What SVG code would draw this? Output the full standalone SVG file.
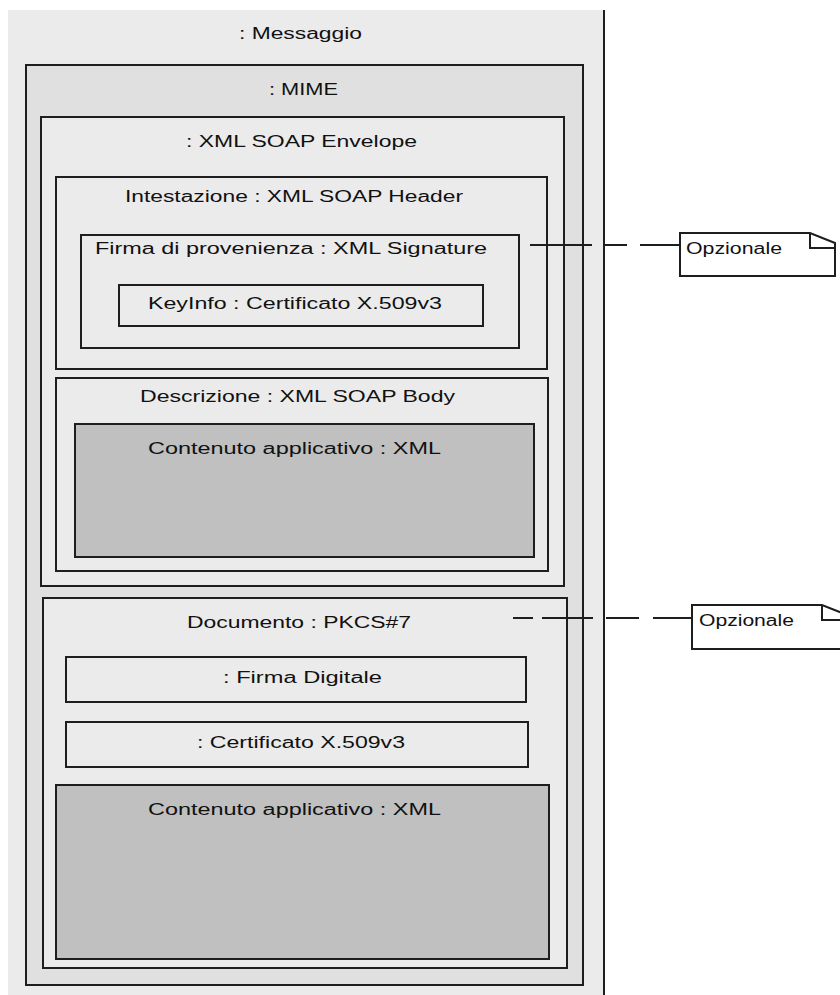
<svg xmlns="http://www.w3.org/2000/svg" width="840" height="995" viewBox="0 0 840 995">
  <style>
    .box { stroke: #1e1e1e; stroke-width: 2; }
    .light { fill: #ebebeb; }
    .mid { fill: #e0e0e0; }
    .dark { fill: #c0c0c0; }
    .lbl { font-family: "Liberation Sans", Arial, sans-serif; font-size: 16px; fill: #111; }
    .note { fill: #ffffff; stroke: #1e1e1e; stroke-width: 2; }
    .fold { fill: none; stroke: #1e1e1e; stroke-width: 2; }
    .link { fill: none; stroke: #1e1e1e; stroke-width: 2; }
  </style>

  <rect width="840" height="995" fill="#ffffff"/>

  <!-- outer message container -->
  <g id="messaggio">
    <rect x="8" y="10" width="596" height="985" class="light"/>
    <line x1="604" y1="10" x2="604" y2="995" stroke="#1e1e1e" stroke-width="2"/>
    <text class="lbl" x="239" y="39" textLength="123" lengthAdjust="spacingAndGlyphs">: Messaggio</text>
  </g>

  <g id="mime">
    <rect x="26" y="65" width="557" height="920" class="box mid"/>
    <text class="lbl" x="269" y="95" textLength="69" lengthAdjust="spacingAndGlyphs">: MIME</text>
  </g>

  <g id="soap-envelope">
    <rect x="41" y="117" width="523" height="469" class="box light"/>
    <text class="lbl" x="186" y="147" textLength="231" lengthAdjust="spacingAndGlyphs">: XML SOAP Envelope</text>
  </g>

  <g id="soap-header">
    <rect x="56" y="177" width="491" height="192" class="box light"/>
    <text class="lbl" x="125" y="202" textLength="338" lengthAdjust="spacingAndGlyphs">Intestazione : XML SOAP Header</text>
  </g>

  <g id="xml-signature">
    <rect x="81" y="235" width="438" height="113" class="box light"/>
    <text class="lbl" x="95" y="254" textLength="392" lengthAdjust="spacingAndGlyphs">Firma di provenienza : XML Signature</text>
  </g>

  <g id="keyinfo">
    <rect x="119" y="285" width="364" height="41" class="box light"/>
    <text class="lbl" x="148" y="309" textLength="294" lengthAdjust="spacingAndGlyphs">KeyInfo : Certificato X.509v3</text>
  </g>

  <g id="soap-body">
    <rect x="56" y="378" width="492" height="193" class="box light"/>
    <text class="lbl" x="140" y="402" textLength="315" lengthAdjust="spacingAndGlyphs">Descrizione : XML SOAP Body</text>
  </g>

  <g id="contenuto-body">
    <rect x="75" y="424" width="459" height="133" class="box dark"/>
    <text class="lbl" x="148" y="454" textLength="293" lengthAdjust="spacingAndGlyphs">Contenuto applicativo : XML</text>
  </g>

  <g id="pkcs7">
    <rect x="43" y="598" width="524" height="370" class="box light"/>
    <text class="lbl" x="187" y="628" textLength="224" lengthAdjust="spacingAndGlyphs">Documento : PKCS#7</text>
  </g>

  <g id="firma-digitale">
    <rect x="66" y="657" width="460" height="45" class="box light"/>
    <text class="lbl" x="223" y="683" textLength="159" lengthAdjust="spacingAndGlyphs">: Firma Digitale</text>
  </g>

  <g id="certificato">
    <rect x="66" y="722" width="462" height="45" class="box light"/>
    <text class="lbl" x="197" y="748" textLength="208" lengthAdjust="spacingAndGlyphs">: Certificato X.509v3</text>
  </g>

  <g id="contenuto-pkcs7">
    <rect x="56" y="785" width="493" height="174" class="box dark"/>
    <text class="lbl" x="148" y="815" textLength="293" lengthAdjust="spacingAndGlyphs">Contenuto applicativo : XML</text>
  </g>

  <!-- dashed anchors to the notes -->
  <g id="connectors">
    <line class="link" x1="530" y1="245" x2="680" y2="245" stroke-dasharray="62 11 24 13 40"/>
    <line class="link" x1="513" y1="618" x2="692" y2="618" stroke-dasharray="20 9 51 13 33 14 39"/>
  </g>

  <g id="nota-1">
    <path class="note" d="M680,233 H810 L835,243 V276 H680 Z"/>
    <path class="fold" d="M810,233 V248 H835"/>
    <text class="lbl" x="686" y="254" textLength="96" lengthAdjust="spacingAndGlyphs">Opzionale</text>
  </g>

  <g id="nota-2">
    <path class="note" d="M692,605 H822 L847,615 V649 H692 Z"/>
    <path class="fold" d="M822,605 V620 H847"/>
    <text class="lbl" x="699" y="626" textLength="95" lengthAdjust="spacingAndGlyphs">Opzionale</text>
  </g>
</svg>
